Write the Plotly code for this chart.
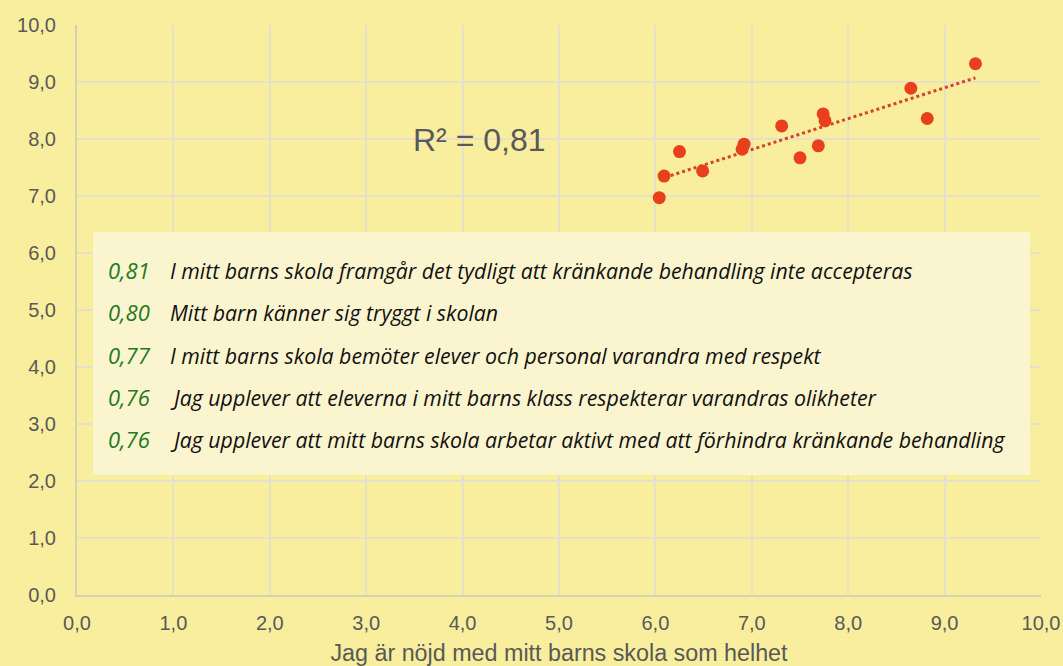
import numpy as np
import plotly.graph_objects as go

# Data
x_vals = [6.04, 6.09, 6.25, 6.49, 6.92, 6.90, 7.31, 7.50, 7.69, 7.74, 7.76, 8.65, 8.82, 9.32]
y_vals = [6.97, 7.35, 7.78, 7.44, 7.91, 7.82, 8.23, 7.67, 7.88, 8.44, 8.32, 8.89, 8.36, 9.32]
r2_label = "R² = 0,81"
corr_values = ["0,81", "0,80", "0,77", "0,76", "0,76"]
statements = [
    "I mitt barns skola framgår det tydligt att kränkande behandling inte accepteras",
    "Mitt barn känner sig tryggt i skolan",
    "I mitt barns skola bemöter elever och personal varandra med respekt",
    "Jag upplever att eleverna i mitt barns klass respekterar varandras olikheter",
    "Jag upplever att mitt barns skola arbetar aktivt med att förhindra kränkande behandling",
]
tick_vals = [0, 1, 2, 3, 4, 5, 6, 7, 8, 9, 10]
x_title = "Jag är nöjd med mitt barns skola som helhet"

# Layout geometry (pixels)
W, H = 1063, 666
L, R, T, B = 77, 22, 25, 71
pw, ph = W - L - R, H - T - B

def px_x(p):
    return (p - L) / pw

def px_y(p):
    return (H - B - p) / ph

# Trendline from linear regression
slope, intercept = np.polyfit(x_vals, y_vals, 1)
tx = np.array([min(x_vals), max(x_vals)])
ty = slope * tx + intercept

bg = "#F8EE9E"
fig = go.Figure()

fig.add_trace(go.Scatter(
    x=tx, y=ty, mode="lines",
    line=dict(color="#D8402A", width=3, dash="dot"),
    hoverinfo="skip", showlegend=False,
))
fig.add_trace(go.Scatter(
    x=x_vals, y=y_vals, mode="markers",
    marker=dict(color="#E8401C", size=13, line=dict(width=0)),
    showlegend=False,
))

# Text box
fig.add_shape(
    type="rect", xref="paper", yref="paper",
    x0=px_x(93), x1=px_x(1030), y0=px_y(475), y1=px_y(232),
    fillcolor="#FBF5CF", line=dict(width=0), layer="above",
)

row_y = [270, 312, 355, 397, 439]
for i, (c, s) in enumerate(zip(corr_values, statements)):
    fig.add_annotation(
        xref="paper", yref="paper", x=px_x(106), y=px_y(row_y[i]),
        text=f"<i>{c}</i>", showarrow=False, xanchor="left", yanchor="middle",
        font=dict(family="Open Sans, sans-serif", size=22, color="#1F7A1F"),
    )
    fig.add_annotation(
        xref="paper", yref="paper", x=px_x(168), y=px_y(row_y[i]),
        text=f"<i>{s}</i>", showarrow=False, xanchor="left", yanchor="middle",
        font=dict(family="Open Sans, sans-serif", size=21.3, color="#111111"),
    )

fig.add_annotation(
    xref="paper", yref="paper", x=px_x(479), y=px_y(140),
    text=r2_label, showarrow=False, xanchor="center", yanchor="middle",
    font=dict(family="Liberation Sans, Arial, sans-serif", size=32, color="#595959"),
)

tick_font = dict(family="Liberation Sans, Arial, sans-serif", size=20, color="#595959")
axis_common = dict(
    range=[0, 10], tickvals=tick_vals, tickformat=".1f",
    showgrid=True, gridcolor="#E4E0CC", gridwidth=1.5,
    zeroline=False, showline=True, linecolor="#D6CFB6", linewidth=2,
    ticks="", tickfont=tick_font, automargin=False,
)

fig.update_layout(
    width=W, height=H,
    margin=dict(l=L, r=R, t=T, b=B),
    paper_bgcolor=bg, plot_bgcolor=bg,
    separators=", ",
    xaxis=dict(**axis_common, ticklabelstandoff=9,
               title=dict(text=x_title, standoff=14,
                          font=dict(family="Liberation Sans, Arial, sans-serif", size=23.3, color="#595959"))),
    yaxis=dict(**axis_common, ticklabelstandoff=15),
)

fig.write_html(
    "out.html",
    config={"displayModeBar": False},
    post_script="document.body.style.margin='0';document.body.style.overflow='hidden';",
)
